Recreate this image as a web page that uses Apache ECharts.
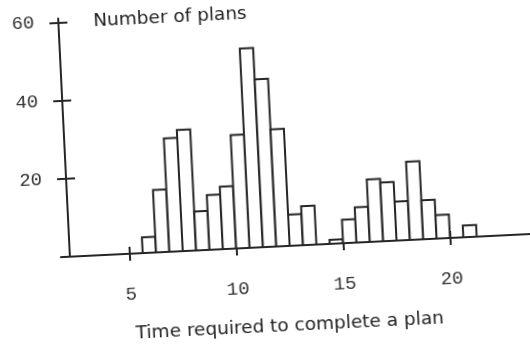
<!DOCTYPE html>
<html>
<head>
<meta charset="utf-8">
<script src="https://cdn.jsdelivr.net/npm/echarts@6/dist/echarts.min.js"></script>
<style>
  html, body { margin: 0; padding: 0; background: #fff; overflow: hidden; }
  #chart { width: 530px; height: 345px; transform: rotate(-2.82deg); transform-origin: 50% 50%; }
</style>
</head>
<body>
<div id="chart"></div>
<script>
// Histogram data (time required to complete a plan)
const binStart = 5.625;
const binWidth = 0.625;
const counts = [4, 16, 29, 31, 10, 14, 16, 29, 51, 43, 30, 8, 10, 0, 1, 6, 9, 16, 15, 10, 20, 10, 6, 0, 3];
const xTicks = [5, 10, 15, 20];
const yTicks = [20, 40, 60];
const yTitle = 'Number of plans';
const xTitle = 'Time required to complete a plan';

const bins = counts.map((c, i) => [binStart + i * binWidth, binStart + (i + 1) * binWidth, c]);

const INK = '#262626';
const labelFont = { fontFamily: 'Liberation Mono', fontSize: 19, color: '#333' };

const chart = echarts.init(document.getElementById('chart'), null, { renderer: 'canvas' });
chart.setOption({
  backgroundColor: '#fff',
  animation: false,
  title: [
    { text: yTitle, left: 101, top: 2, padding: 0,
      textStyle: { fontFamily: 'DejaVu Sans', fontSize: 18.5, fontWeight: 'normal', color: '#222', lineHeight: 22 } },
    { text: xTitle, left: 128, top: 316, padding: 0,
      textStyle: { fontFamily: 'DejaVu Sans', fontSize: 18.5, fontWeight: 'normal', color: '#222', lineHeight: 22 } }
  ],
  grid: { left: 57, right: 0, top: 8.5, bottom: 98, containLabel: false },
  xAxis: [
    { type: 'value', min: 1.8, max: 23.9, position: 'bottom',
      axisLine: { show: true, lineStyle: { color: INK, width: 2 } },
      axisTick: { show: true, inside: false, length: 7, customValues: xTicks, lineStyle: { color: INK, width: 2 } },
      axisLabel: { show: true, customValues: xTicks, margin: 31, ...labelFont },
      splitLine: { show: false } },
    { type: 'value', min: 1.8, max: 23.9, position: 'bottom',
      axisLine: { show: false },
      axisTick: { show: true, inside: true, length: 7, customValues: xTicks, lineStyle: { color: INK, width: 2 } },
      axisLabel: { show: false },
      splitLine: { show: false } }
  ],
  yAxis: [
    { type: 'value', min: 0, max: 61, position: 'left', offset: -9,
      axisLine: { show: true, lineStyle: { color: INK, width: 2 } },
      axisTick: { show: true, inside: false, length: 9, customValues: yTicks, lineStyle: { color: INK, width: 2 } },
      axisLabel: { show: true, customValues: yTicks, margin: 24, ...labelFont },
      splitLine: { show: false } },
    { type: 'value', min: 0, max: 61, position: 'left', offset: -9,
      axisLine: { show: false },
      axisTick: { show: true, inside: true, length: 9, customValues: yTicks, lineStyle: { color: INK, width: 2 } },
      axisLabel: { show: false },
      splitLine: { show: false } }
  ],
  series: [{
    type: 'custom',
    xAxisIndex: 0,
    yAxisIndex: 0,
    encode: { x: [0, 1], y: 2 },
    data: bins,
    renderItem: function (params, api) {
      const v = api.value(2);
      if (!v) return null;
      const p0 = api.coord([api.value(0), v]);
      const p1 = api.coord([api.value(1), 0]);
      return {
        type: 'rect',
        shape: { x: p0[0], y: p0[1], width: p1[0] - p0[0], height: p1[1] - p0[1] },
        style: { fill: '#fff', stroke: INK, lineWidth: 2 }
      };
    }
  }]
});
</script>
</body>
</html>
